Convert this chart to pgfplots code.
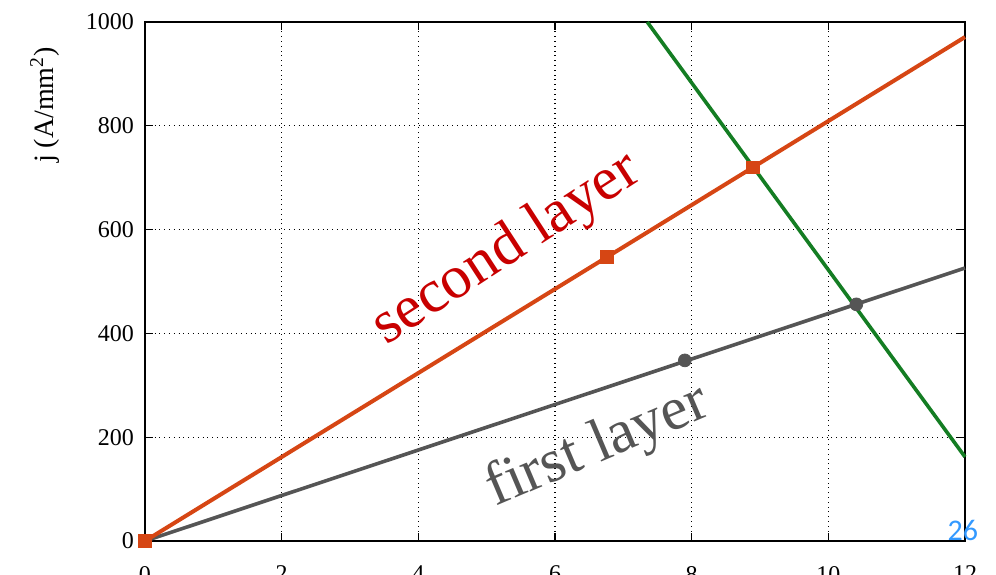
\documentclass[border=0pt]{standalone}
\usepackage{fontspec}
\setmainfont{Liberation Serif}
\newfontfamily\pagefont{Carlito}
\usepackage{pgfplots}
\pgfplotsset{compat=1.18}
\definecolor{orangeline}{RGB}{214,70,20}
\definecolor{grayline}{RGB}{85,85,85}
\definecolor{greenline}{RGB}{20,125,35}
\definecolor{darkred}{RGB}{200,0,0}
\definecolor{pageblue}{RGB}{51,153,255}
\begin{document}
\begin{tikzpicture}
\clip (-72.5pt,-16.5pt) rectangle (425.5pt,270.5pt);
\begin{axis}[
  scale only axis,
  width=410pt, height=259.5pt,
  at={(0,0)}, anchor=south west,
  xmin=0, xmax=12, ymin=0, ymax=1000,
  xtick={0,2,...,12}, ytick={0,200,...,1000},
  grid=major,
  major grid style={black, dotted, line width=0.6pt},
  axis line style={black, line width=0.8pt},
  tick style={black, line width=0.6pt},
  tick align=inside,
  major tick length=4pt,
  clip=false,
  /pgf/number format/assume math mode=true,
  /pgf/number format/1000 sep={},
  ticklabel style={font=\fontsize{12}{14}\selectfont},
  xticklabel style={yshift=-9pt},
  yticklabel style={xshift=-2pt},
  ylabel={j (A/mm\textsuperscript{2})},
  ylabel style={at={(axis description cs:-0.122,0.84)}, anchor=center, font=\fontsize{14}{16}\selectfont},
]
\addplot[greenline, line width=1.8pt] coordinates {(7.35,1000) (12,162)};
\addplot[grayline, line width=1.8pt] coordinates {(0,0) (12,526)};
\addplot[grayline, only marks, mark=*, mark size=3.2pt] coordinates {(7.90,348) (10.41,456)};
\addplot[orangeline, line width=2pt] coordinates {(0,0) (12,971)};
\addplot[orangeline, only marks, mark=square*, mark size=3.2pt] coordinates {(0,0) (6.76,547) (8.90,720)};
\node[rotate=33, text=darkred, font=\fontsize{30.5}{36}\selectfont, anchor=center] at (axis cs:5.30,561) {second layer};
\node[rotate=23, text=grayline, font=\fontsize{30.5}{36}\selectfont, anchor=center] at (axis cs:6.63,181) {first layer};
\node[text=pageblue, font=\pagefont\fontsize{15}{17}\selectfont, anchor=center] at (axis cs:11.97,21) {26};
\end{axis}
\end{tikzpicture}
\end{document}
